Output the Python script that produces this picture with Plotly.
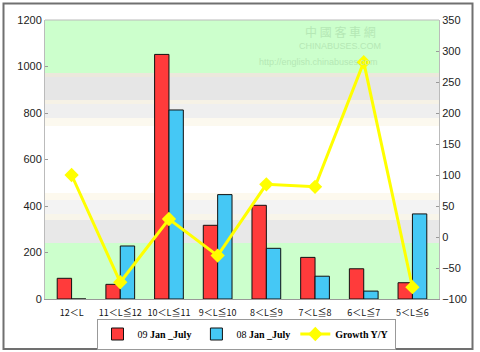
import plotly.graph_objects as go

categories = ["12＜L", "11＜L≦12", "10＜L≦11", "9＜L≦10", "8＜L≦9", "7＜L≦8", "6＜L≦7", "5＜L≦6"]
sales_09 = [89, 63, 1052, 317, 403, 179, 130, 70]
sales_08 = [0, 228, 813, 449, 218, 98, 34, 366]
growth = [100, -73, 29, -30, 85, 81, 282, -81]
left_ticks = [0, 200, 400, 600, 800, 1000, 1200]
right_ticks = [-100, -50, 0, 50, 100, 150, 200, 250, 300, 350]

fig = go.Figure()
fig.add_trace(go.Bar(x=categories, y=sales_09, name="09 <b>Jan _July</b>",
                     marker=dict(color="#ff3b3b", line=dict(color="#111", width=1))))
fig.add_trace(go.Bar(x=categories, y=sales_08, name="08 <b>Jan _July</b>",
                     marker=dict(color="#45c8f5", line=dict(color="#111", width=1))))
fig.add_trace(go.Scatter(x=categories, y=growth, name="<b>Growth Y/Y</b>", yaxis="y2",
                         mode="lines+markers",
                         line=dict(color="#ffff00", width=3),
                         marker=dict(symbol="diamond", size=11, color="#ffff00")))

def py(p):
    return (299 - p) / 279.0

def px(p):
    return (p - 45) / 394.0

bands = [
    (20, 73, "#ccffcc"),
    (73, 77, "#ece8dc"),
    (77, 100, "#e6e6e6"),
    (100, 104, "#f6f2e6"),
    (104, 118, "#efefef"),
    (118, 126, "#fcf9ef"),
    (193, 200, "#fdf9ee"),
    (200, 214, "#f3f3f3"),
    (214, 220, "#f8f5ea"),
    (220, 243, "#e8e8e8"),
    (243, 299, "#ccffcc"),
]
shapes = []
for top, bot, col in bands:
    shapes.append(dict(type="rect", xref="paper", yref="paper", x0=0, x1=1,
                       y0=py(bot), y1=py(top), fillcolor=col, line=dict(width=0),
                       layer="below"))
shapes.append(dict(type="line", xref="paper", yref="paper", x0=0, x1=1, y0=1, y1=1,
                   line=dict(color="#bbbbbb", width=1)))
shapes.append(dict(type="rect", xref="paper", yref="paper",
                   x0=px(3.5), x1=px(472.5), y0=py(349), y1=py(3.5),
                   line=dict(color="#707070", width=2), fillcolor="rgba(0,0,0,0)"))

annotations = [
    dict(text="中 國 客 車 網", x=px(340), y=py(32), xref="paper", yref="paper",
         xanchor="center", yanchor="middle",
         showarrow=False, font=dict(size=12, color="#b5e8b5", family="Noto Sans CJK SC")),
    dict(text="CHINABUSES.COM", x=px(340), y=py(46), xref="paper", yref="paper",
         xanchor="center", yanchor="middle",
         showarrow=False, font=dict(size=9, color="#b5e8b5", family="Arial")),
    dict(text="http://english.chinabuses.com", x=px(318), y=py(62), xref="paper", yref="paper",
         xanchor="center", yanchor="middle",
         showarrow=False, font=dict(size=9, color="#b5e8b5", family="Arial")),
]

fig.update_layout(
    width=480, height=352,
    margin=dict(l=45, r=41, t=20, b=53, autoexpand=False),
    paper_bgcolor="white", plot_bgcolor="white",
    barmode="group", bargap=0.41, bargroupgap=0,
    showlegend=True,
    legend=dict(orientation="h", x=px(246), xanchor="center", y=py(334), yanchor="middle",
                bordercolor="#999999", borderwidth=1, bgcolor="white",
                font=dict(family="Liberation Serif", size=10, color="#000"),
                tracegroupgap=0, itemwidth=30),
    xaxis=dict(showgrid=False, ticks="", showline=True, linecolor="#999999",
               automargin=False, ticklabelstandoff=5,
               tickfont=dict(family="Noto Sans CJK SC", size=9, color="#111"),
               tickangle=0),
    yaxis=dict(range=[0, 1200], tickvals=left_ticks, showgrid=False, zeroline=False,
               automargin=False,
               showline=True, linecolor="#bbbbbb", ticks="inside", ticklen=3,
               tickcolor="#999", tickfont=dict(family="Arial", size=11, color="#222")),
    yaxis2=dict(range=[-100, 350], tickvals=right_ticks, overlaying="y", side="right",
                automargin=False,
                showgrid=False, zeroline=False, showline=True, linecolor="#bbbbbb",
                ticks="inside", ticklen=3, tickcolor="#999",
                tickfont=dict(family="Arial", size=11, color="#222")),
    shapes=shapes,
    annotations=annotations,
)

fig.write_html("out.html")
